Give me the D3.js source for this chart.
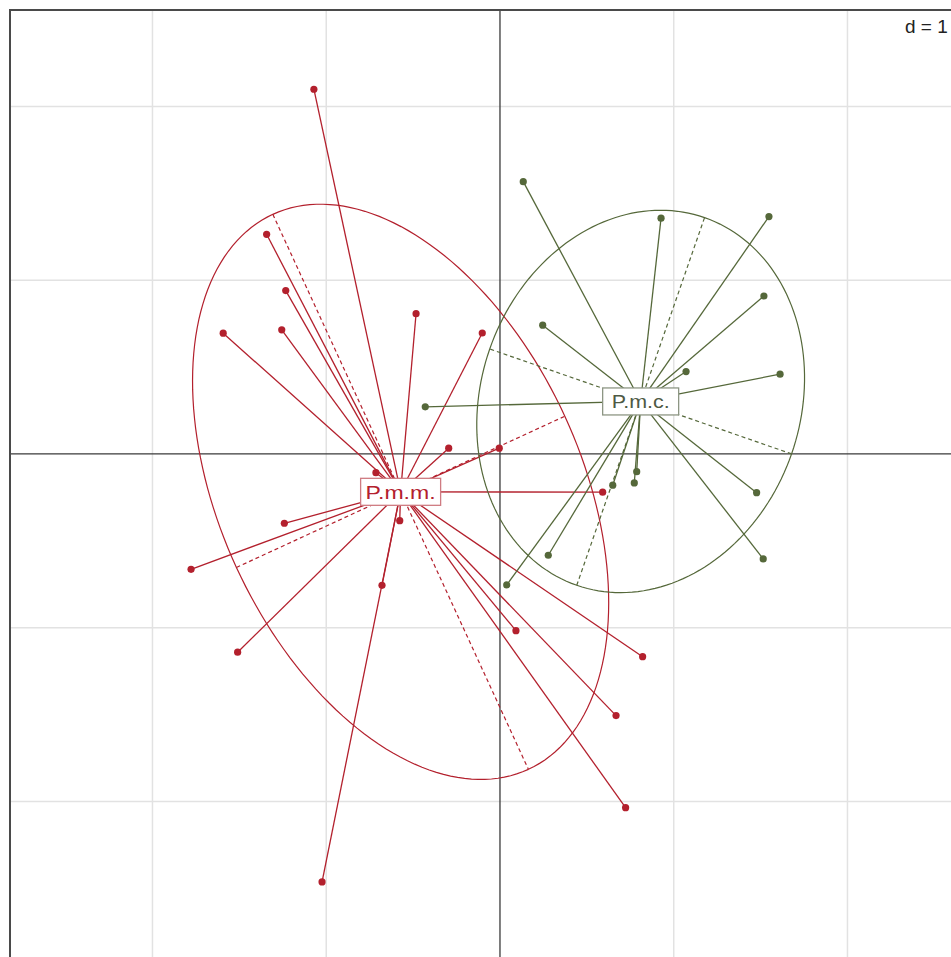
<!DOCTYPE html>
<html>
<head>
<meta charset="utf-8">
<script src="https://cdn.jsdelivr.net/npm/d3@7"></script>
<style>
  body { margin: 0; background: #fff; }
  svg { display: block; }
</style>
</head>
<body>
<div id="chart"></div>
<script>
// class labels
var classes = ["P.m.m.", "P.m.c."];
var classColors = ["#b3202d", "#55683a"];
var labelColors = ["#b3202d", "#4e5a44"];

// P.m.m. scores (axis 1, axis 2)
var pmmX = [-1.071, -1.343, -1.233, -1.593, -1.256, -0.483, -0.102, -0.295, -0.004, -0.714, -1.241,
            -1.778, -1.510, -0.577, -0.679, -1.024, 0.591, 0.092, 0.821, 0.668, 0.723];
var pmmY = [2.099, 1.264, 0.940, 0.695, 0.714, 0.807, 0.696, 0.033, 0.033, -0.108, -0.399,
            -0.664, -1.141, -0.384, -0.756, -2.463, -0.220, -1.017, -1.167, -1.506, -2.036];

// P.m.c. scores
var pmcX = [0.134, 0.927, 1.548, 1.519, 0.246, 1.071, 1.612, -0.430, 0.787, 0.773, 0.649,
            1.477, 0.278, 0.039, 1.515];
var pmcY = [1.567, 1.357, 1.366, 0.909, 0.741, 0.474, 0.459, 0.271, -0.102, -0.167, -0.180,
            -0.223, -0.583, -0.754, -0.604];

var gridTicks = [-2, -1, 0, 1, 2];
var gridStep = "d = 1";
var cellipse = 1.5;

var width = 951, height = 957;
var unit = 173.75;
var xDomain = [-2.82, 2.88], yDomain = [2.555, -2.95];

var x = d3.scaleLinear().domain(xDomain)
    .range([10, 10 + (xDomain[1] - xDomain[0]) * unit]);
var y = d3.scaleLinear().domain(yDomain)
    .range([10, 10 + (yDomain[0] - yDomain[1]) * unit]);

var svg = d3.select("#chart").append("svg")
    .attr("width", width)
    .attr("height", height);

// grid
svg.append("g").selectAll("line.gx")
    .data(gridTicks.filter(function(d) { return d !== 0; }))
    .enter().append("line")
    .attr("x1", function(d) { return x(d); })
    .attr("x2", function(d) { return x(d); })
    .attr("y1", y.range()[0]).attr("y2", y.range()[1])
    .style("stroke", "#e2e2e2").style("stroke-width", "1.5px");
svg.append("g").selectAll("line.gy")
    .data(gridTicks.filter(function(d) { return d !== 0; }))
    .enter().append("line")
    .attr("y1", function(d) { return y(d); })
    .attr("y2", function(d) { return y(d); })
    .attr("x1", x.range()[0]).attr("x2", x.range()[1])
    .style("stroke", "#e2e2e2").style("stroke-width", "1.5px");

// axes through origin
svg.append("line")
    .attr("x1", x(0)).attr("x2", x(0))
    .attr("y1", y.range()[0]).attr("y2", y.range()[1])
    .style("stroke", "#3a3a3a").style("stroke-width", "1.3px");
svg.append("line")
    .attr("y1", y(0)).attr("y2", y(0))
    .attr("x1", x.range()[0]).attr("x2", x.range()[1])
    .style("stroke", "#3a3a3a").style("stroke-width", "1.3px");

// d = 1 label
var dLab = svg.append("g");
dLab.append("rect")
    .attr("x", 898).attr("y", 13).attr("width", 62).attr("height", 27)
    .style("fill", "#fff");
dLab.append("text")
    .attr("x", 905).attr("y", 33)
    .style("font-family", "'Liberation Sans', Arial, sans-serif")
    .style("font-size", "19px")
    .style("fill", "#222")
    .text(gridStep);

var groups = [
    {xs: pmmX, ys: pmmY},
    {xs: pmcX, ys: pmcY}
];

groups.forEach(function(g, i) {
    var pts = g.xs.map(function(v, k) { return [v, g.ys[k]]; });
    var mx = d3.mean(g.xs), my = d3.mean(g.ys);
    var vx = d3.mean(pts, function(p) { return (p[0] - mx) * (p[0] - mx); });
    var vy = d3.mean(pts, function(p) { return (p[1] - my) * (p[1] - my); });
    var cxy = d3.mean(pts, function(p) { return (p[0] - mx) * (p[1] - my); });
    // eigen decomposition of 2x2 covariance
    var tr = vx + vy, det = vx * vy - cxy * cxy;
    var disc = Math.sqrt(tr * tr / 4 - det);
    var l1 = tr / 2 + disc, l2 = tr / 2 - disc;
    var u1 = Math.abs(cxy) > 1e-12 ? [l1 - vy, cxy] : (vx >= vy ? [1, 0] : [0, 1]);
    var len = Math.hypot(u1[0], u1[1]);
    u1 = [u1[0] / len, u1[1] / len];
    var u2 = [-u1[1], u1[0]];
    var a = cellipse * Math.sqrt(l1), b = cellipse * Math.sqrt(Math.max(l2, 0));
    g.center = [mx, my];

    var col = classColors[i];
    var layer = svg.append("g");

    var ell = d3.range(0, 361, 2).map(function(t) {
        var r = t * Math.PI / 180;
        return [mx + a * Math.cos(r) * u1[0] + b * Math.sin(r) * u2[0],
                my + a * Math.cos(r) * u1[1] + b * Math.sin(r) * u2[1]];
    });
    layer.append("path")
        .datum(ell)
        .attr("d", d3.line().x(function(d) { return x(d[0]); }).y(function(d) { return y(d[1]); }))
        .style("fill", "none").style("stroke", col).style("stroke-width", "1.2px");

    // ellipse axes, dashed
    [[u1, a], [u2, b]].forEach(function(ax) {
        layer.append("line")
            .attr("x1", x(mx - ax[0][0] * ax[1])).attr("y1", y(my - ax[0][1] * ax[1]))
            .attr("x2", x(mx + ax[0][0] * ax[1])).attr("y2", y(my + ax[0][1] * ax[1]))
            .style("stroke", col).style("stroke-width", "1.2px")
            .style("stroke-dasharray", "4,3");
    });

    // stars
    layer.selectAll("line.star")
        .data(pts).enter().append("line")
        .attr("x1", x(mx)).attr("y1", y(my))
        .attr("x2", function(d) { return x(d[0]); })
        .attr("y2", function(d) { return y(d[1]); })
        .style("stroke", col).style("stroke-width", "1.3px");
});

groups.forEach(function(g, i) {
    var pts = g.xs.map(function(v, k) { return [v, g.ys[k]]; });
    svg.append("g").selectAll("circle")
        .data(pts).enter().append("circle")
        .attr("cx", function(d) { return x(d[0]); })
        .attr("cy", function(d) { return y(d[1]); })
        .attr("r", 3.6)
        .style("fill", classColors[i]);
});

// class labels
groups.forEach(function(g, i) {
    var cx = x(g.center[0]), cy = y(g.center[1]);
    var w = i === 0 ? 80 : 76, h = 27;
    var lab = svg.append("g");
    lab.append("rect")
        .attr("x", cx - w / 2).attr("y", cy - h / 2)
        .attr("width", w).attr("height", h)
        .style("fill", "#fff")
        .style("stroke", i === 0 ? "#cf7b82" : "#8d9684")
        .style("stroke-width", "1.3px");
    lab.append("text")
        .attr("x", cx).attr("y", cy + 7)
        .attr("text-anchor", "middle")
        .attr("textLength", i === 0 ? 70 : 58)
        .attr("lengthAdjust", "spacingAndGlyphs")
        .style("font-family", "'Liberation Sans', Arial, sans-serif")
        .style("font-size", "19px")
        .style("fill", labelColors[i])
        .text(classes[i]);
});

// frame
svg.append("rect")
    .attr("x", x.range()[0]).attr("y", y.range()[0])
    .attr("width", x.range()[1] - x.range()[0])
    .attr("height", y.range()[1] - y.range()[0])
    .style("fill", "none").style("stroke", "#4a4a4a").style("stroke-width", "2px");
</script>
</body>
</html>
